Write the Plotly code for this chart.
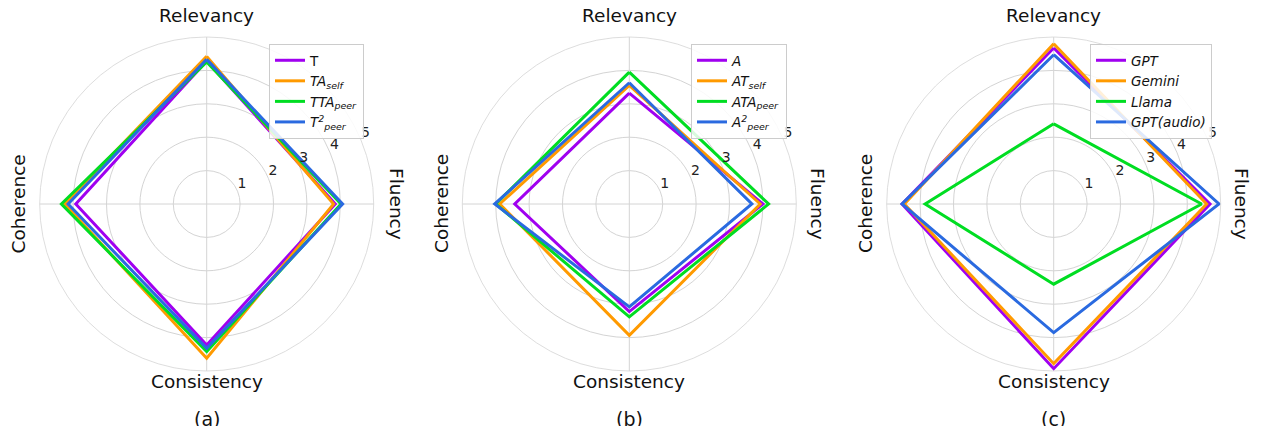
import plotly.graph_objects as go

# The page body has an 8px margin; lay the figure out in screen pixels and
# convert to figure pixels with this offset.
OFF = 8
SCREEN_W, SCREEN_H = 1263, 434
W, H = SCREEN_W - 2 * OFF, SCREEN_H - 2 * OFF

categories = ["Relevancy", "Fluency", "Consistency", "Coherence"]
radial_ticks = [1, 2, 3, 4, 5]
panel_labels = ["(a)", "(b)", "(c)"]

# Panel (a)
names_a = ["T", "<i>TA<sub>self</sub></i>", "<i>TTA<sub>peer</sub></i>", "<i>T<sup>2</sup><sub>peer</sub></i>"]
T_vals = [4.28, 3.85, 4.22, 3.92]
TA_self_vals = [4.42, 3.80, 4.62, 4.25]
TTA_peer_vals = [4.25, 4.02, 4.42, 4.35]
T2_peer_vals = [4.33, 4.07, 4.32, 4.15]

# Panel (b)
names_b = ["<i>A</i>", "<i>AT<sub>self</sub></i>", "<i>ATA<sub>peer</sub></i>", "<i>A<sup>2</sup><sub>peer</sub></i>"]
A_vals = [3.32, 4.00, 3.22, 3.43]
AT_self_vals = [3.55, 3.92, 3.93, 3.88]
ATA_peer_vals = [3.95, 4.17, 3.38, 4.00]
A2_peer_vals = [3.63, 3.67, 3.08, 4.03]

# Panel (c)
names_c = ["<i>GPT</i>", "<i>Gemini</i>", "<i>Llama</i>", "<i>GPT(audio)</i>"]
GPT_vals = [4.67, 4.68, 4.93, 4.54]
Gemini_vals = [4.80, 4.58, 4.78, 4.47]
Llama_vals = [2.40, 4.43, 2.40, 3.85]
GPT_audio_vals = [4.47, 4.95, 3.85, 4.54]

colors = ["#a000f0", "#ff9a00", "#00dd22", "#2a6ae0"]

panels = [
    (names_a, [T_vals, TA_self_vals, TTA_peer_vals, T2_peer_vals]),
    (names_b, [A_vals, AT_self_vals, ATA_peer_vals, A2_peer_vals]),
    (names_c, [GPT_vals, Gemini_vals, Llama_vals, GPT_audio_vals]),
]

# angular position of each category (clockwise from the top, degrees)
step = 360 / len(categories)
cat_theta = [k * step for k in range(len(categories))]
RLABEL_THETA = 67.5  # radial tick labels sit 22.5 deg above the Fluency spoke

# screen-pixel layout
centers_x = [206.7, 629.3, 1053.7]
center_y = 204.0
radius = 167.0
legend_left = [269, 691, 1090]
legend_top = 44
fluency_x = [397, 818, 1242]
coherence_x = [17.5, 441, 865]

FONT = "DejaVu Sans"
GRID = "#d4d4d4"


def px(x):
    return (x - OFF) / W


def py(y):
    return 1 - (y - OFF) / H


fig = go.Figure()
layout = dict(
    width=W, height=H,
    margin=dict(l=0, r=0, t=0, b=0),
    paper_bgcolor="white",
    font=dict(family=FONT, color="#111111"),
    showlegend=True,
)
annotations = []

for i, (names, series) in enumerate(panels):
    pid = "polar" if i == 0 else f"polar{i+1}"
    lid = "legend" if i == 0 else f"legend{i+1}"
    for name, vals, col in zip(names, series, colors):
        fig.add_trace(go.Scatterpolar(
            r=list(vals) + [vals[0]],
            theta=cat_theta + [cat_theta[0]],
            mode="lines",
            line=dict(color=col, width=3),
            name=name,
            subplot=pid,
            legend=lid,
        ))
    # radial tick labels (upright, matplotlib style)
    fig.add_trace(go.Scatterpolar(
        r=radial_ticks,
        theta=[RLABEL_THETA] * len(radial_ticks),
        mode="text",
        text=[str(t) for t in radial_ticks],
        textposition="top right",
        textfont=dict(family=FONT, size=14, color="#222222"),
        subplot=pid, showlegend=False, hoverinfo="skip", cliponaxis=False,
    ))
    cx = centers_x[i]
    layout[pid] = dict(
        domain=dict(x=[px(cx - radius), px(cx + radius)],
                    y=[py(center_y + radius), py(center_y - radius)]),
        bgcolor="white",
        radialaxis=dict(
            range=[0, 5], tickvals=radial_ticks,
            showticklabels=False, showline=False, ticks="",
            gridcolor=GRID, gridwidth=0.8,
        ),
        angularaxis=dict(
            type="linear", tickvals=cat_theta,
            direction="clockwise", rotation=90,
            showticklabels=False, ticks="",
            gridcolor=GRID, gridwidth=0.8,
            showline=True, linecolor=GRID, linewidth=0.8,
        ),
    )
    layout[lid] = dict(
        x=px(legend_left[i]), y=py(legend_top),
        xanchor="left", yanchor="top",
        bgcolor="rgba(255,255,255,0.85)",
        bordercolor="#cccccc", borderwidth=1,
        font=dict(family=FONT, size=13.5, color="#111111"),
        itemwidth=30, tracegroupgap=0,
    )
    lab = dict(xref="paper", yref="paper", showarrow=False,
               xanchor="center", yanchor="middle")
    f = dict(family=FONT, size=18.5, color="#111111")
    annotations += [
        dict(text=categories[0], x=px(cx), y=py(16), font=f, **lab),
        dict(text=categories[2], x=px(cx), y=py(381.5), font=f, **lab),
        dict(text=categories[1], x=px(fluency_x[i]), y=py(center_y), textangle=90, font=f, **lab),
        dict(text=categories[3], x=px(coherence_x[i]), y=py(center_y), textangle=-90, font=f, **lab),
        dict(text=panel_labels[i], x=px(cx), y=py(419),
             font=dict(family=FONT, size=19, color="#111111"), **lab),
    ]

layout["annotations"] = annotations
fig.update_layout(**layout)
fig.write_html("out.html")
